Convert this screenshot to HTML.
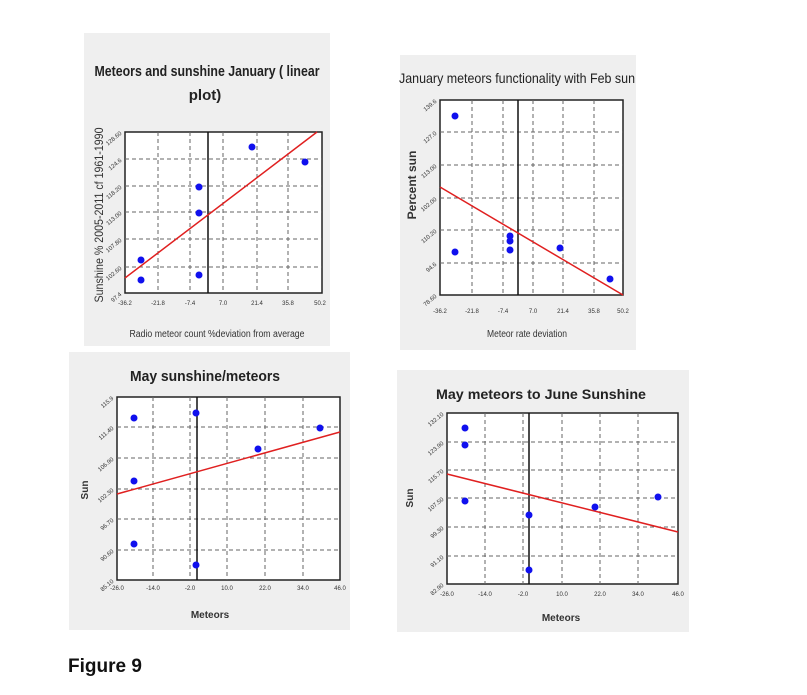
<!DOCTYPE html><html><head><style>body{margin:0;background:#fff}svg{display:block}text{font-family:"Liberation Sans",sans-serif}</style></head><body>
<svg width="807" height="695" xmlns="http://www.w3.org/2000/svg">
<g fill="#efefef"><rect x="84" y="33" width="246" height="313"/><rect x="400" y="55" width="236" height="295"/><rect x="69" y="352" width="281" height="278"/><rect x="397" y="370" width="292" height="262"/></g>
<g fill="#fff" stroke="#222" stroke-width="1.5"><rect x="125" y="132" width="197" height="161"/><rect x="440" y="100" width="183" height="195"/><rect x="117" y="397" width="223" height="183"/><rect x="447" y="413" width="231" height="171"/></g>
<g stroke="#666" stroke-dasharray="4,3" stroke-width="1">
<path d="M158 132V293M190 132V293M223 132V293M257 132V293M288 132V293M125 159H322M125 186H322M125 212H322M125 239H322M125 267H322"/>
<path d="M472 100V295M503 100V295M533 100V295M563 100V295M594 100V295M440 132H623M440 165H623M440 198H623M440 230H623M440 263H623"/>
<path d="M153 397V580M190 397V580M227 397V580M265 397V580M303 397V580M117 427H340M117 458H340M117 489H340M117 519H340M117 550H340"/>
<path d="M485 413V584M523 413V584M562 413V584M600 413V584M638 413V584M447 442H678M447 470H678M447 498H678M447 527H678M447 556H678"/>
</g>
<g stroke="#111" stroke-width="1.5"><path d="M208 132V293M518 100V295M197 397V580M529 413V584"/></g>
<g stroke="#e02020" stroke-width="1.5"><path d="M125 278L317 132M440 187L623 295M117 494L340 432M447 474L678 532"/></g>
<g fill="#1010ee">
<circle cx="141" cy="260" r="3.5"/><circle cx="141" cy="280" r="3.5"/><circle cx="199" cy="187" r="3.5"/><circle cx="199" cy="213" r="3.5"/><circle cx="199" cy="275" r="3.5"/><circle cx="252" cy="147" r="3.5"/><circle cx="305" cy="162" r="3.5"/>
<circle cx="455" cy="116" r="3.5"/><circle cx="455" cy="252" r="3.5"/><circle cx="510" cy="236" r="3.5"/><circle cx="510" cy="241" r="3.5"/><circle cx="510" cy="250" r="3.5"/><circle cx="560" cy="248" r="3.5"/><circle cx="610" cy="279" r="3.5"/>
<circle cx="134" cy="418" r="3.5"/><circle cx="134" cy="481" r="3.5"/><circle cx="134" cy="544" r="3.5"/><circle cx="196" cy="413" r="3.5"/><circle cx="196" cy="565" r="3.5"/><circle cx="258" cy="449" r="3.5"/><circle cx="320" cy="428" r="3.5"/>
<circle cx="465" cy="428" r="3.5"/><circle cx="465" cy="445" r="3.5"/><circle cx="465" cy="501" r="3.5"/><circle cx="529" cy="515" r="3.5"/><circle cx="529" cy="570" r="3.5"/><circle cx="595" cy="507" r="3.5"/><circle cx="658" cy="497" r="3.5"/>
</g>
<g font-weight="bold" fill="#222" text-anchor="middle">
<text x="207" y="76" font-size="15" textLength="225" lengthAdjust="spacingAndGlyphs">Meteors and sunshine  January ( linear</text>
<text x="205" y="100" font-size="15">plot)</text>
<text x="517" y="83" font-size="14" font-weight="normal" textLength="236" lengthAdjust="spacingAndGlyphs">January meteors functionality with Feb sun</text>
<text x="205" y="381" font-size="15" textLength="150" lengthAdjust="spacingAndGlyphs">May sunshine/meteors</text>
<text x="541" y="399" font-size="14" textLength="210" lengthAdjust="spacingAndGlyphs">May meteors to June Sunshine</text>
</g>
<g font-size="10" fill="#333" text-anchor="middle">
<text x="217" y="337" textLength="175" lengthAdjust="spacingAndGlyphs">Radio meteor count %deviation from average</text>
<text x="527" y="337" textLength="80" lengthAdjust="spacingAndGlyphs">Meteor rate deviation</text>
<text x="210" y="618" font-weight="bold">Meteors</text>
<text x="561" y="621" font-weight="bold">Meteors</text>
<text transform="translate(103,215) rotate(-90)" font-size="12" textLength="175" lengthAdjust="spacingAndGlyphs">Sunshine %  2005-2011 cf 1961-1990</text>
<text transform="translate(416,185) rotate(-90)" font-size="12" font-weight="bold">Percent sun</text>
<text transform="translate(88,490) rotate(-90)" font-weight="bold">Sun</text>
<text transform="translate(413,498) rotate(-90)" font-weight="bold">Sun</text>
</g>
<g font-size="6" fill="#333" text-anchor="middle">
<text x="125" y="305">-36.2</text><text x="158" y="305">-21.8</text><text x="190" y="305">-7.4</text><text x="223" y="305">7.0</text><text x="257" y="305">21.4</text><text x="288" y="305">35.8</text><text x="320" y="305">50.2</text>
<text x="440" y="313">-36.2</text><text x="472" y="313">-21.8</text><text x="503" y="313">-7.4</text><text x="533" y="313">7.0</text><text x="563" y="313">21.4</text><text x="594" y="313">35.8</text><text x="623" y="313">50.2</text>
<text x="117" y="590">-26.0</text><text x="153" y="590">-14.0</text><text x="190" y="590">-2.0</text><text x="227" y="590">10.0</text><text x="265" y="590">22.0</text><text x="303" y="590">34.0</text><text x="340" y="590">46.0</text>
<text x="447" y="596">-26.0</text><text x="485" y="596">-14.0</text><text x="523" y="596">-2.0</text><text x="562" y="596">10.0</text><text x="600" y="596">22.0</text><text x="638" y="596">34.0</text><text x="678" y="596">46.0</text>
</g>
<g font-size="6" fill="#333" text-anchor="end">
<text transform="translate(122,134) rotate(-40)">128.60</text><text transform="translate(122,161) rotate(-40)">124.6</text><text transform="translate(122,188) rotate(-40)">118.20</text><text transform="translate(122,214) rotate(-40)">113.00</text><text transform="translate(122,241) rotate(-40)">107.80</text><text transform="translate(122,269) rotate(-40)">102.60</text><text transform="translate(122,295) rotate(-40)">97.4</text>
<text transform="translate(437,102) rotate(-40)">139.6</text><text transform="translate(437,134) rotate(-40)">127.0</text><text transform="translate(437,167) rotate(-40)">113.00</text><text transform="translate(437,200) rotate(-40)">102.00</text><text transform="translate(437,232) rotate(-40)">110.20</text><text transform="translate(437,265) rotate(-40)">94.6</text><text transform="translate(437,297) rotate(-40)">78.60</text>
<text transform="translate(114,399) rotate(-40)">115.9</text><text transform="translate(114,429) rotate(-40)">111.40</text><text transform="translate(114,460) rotate(-40)">106.90</text><text transform="translate(114,491) rotate(-40)">102.30</text><text transform="translate(114,521) rotate(-40)">96.70</text><text transform="translate(114,552) rotate(-40)">90.60</text><text transform="translate(114,582) rotate(-40)">85.10</text>
<text transform="translate(444,415) rotate(-40)">132.10</text><text transform="translate(444,444) rotate(-40)">123.90</text><text transform="translate(444,472) rotate(-40)">115.70</text><text transform="translate(444,500) rotate(-40)">107.50</text><text transform="translate(444,529) rotate(-40)">99.30</text><text transform="translate(444,558) rotate(-40)">91.10</text><text transform="translate(444,586) rotate(-40)">82.90</text>
</g>
<text x="68" y="672" font-size="19" font-weight="bold" fill="#111">Figure 9</text>
</svg></body></html>
